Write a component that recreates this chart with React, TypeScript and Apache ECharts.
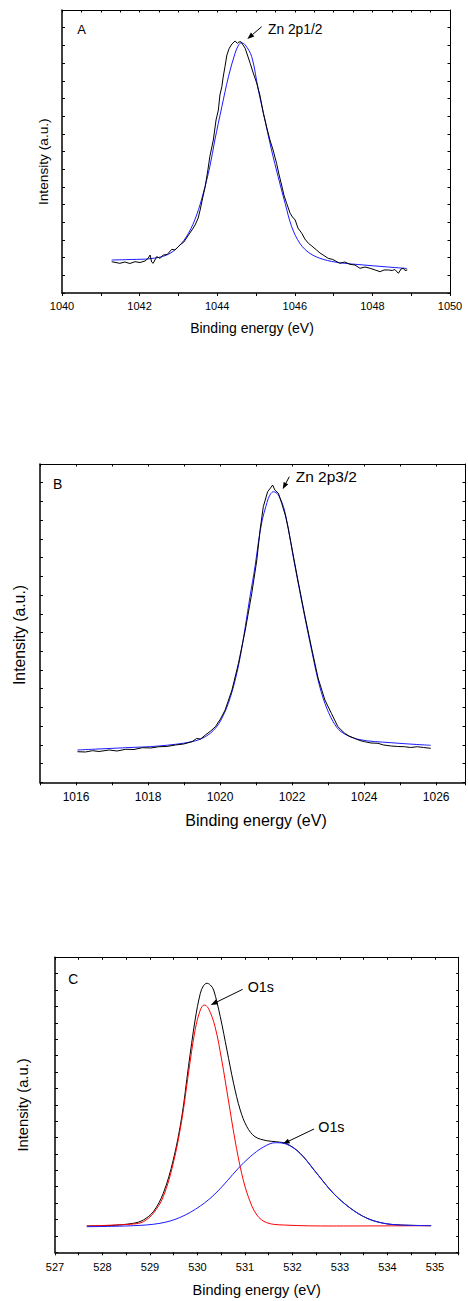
import React, { useEffect, useRef } from "react";
import * as echarts from "echarts";

// ---------- Panel A : Zn 2p1/2 ----------
const aRawEnergy = [1041.28,1041.49,1041.62,1041.75,1041.88,1042.01,1042.14,1042.22,1042.27,1042.31,1042.35,1042.44,1042.53,1042.61,1042.71,1042.83,1042.91,1043.04,1043.14,1043.26,1043.35,1043.43,1043.51,1043.56,1043.63,1043.69,1043.76,1043.81,1043.90,1043.97,1044.03,1044.07,1044.12,1044.15,1044.20,1044.25,1044.31,1044.38,1044.46,1044.52,1044.56,1044.61,1044.65,1044.72,1044.77,1044.85,1044.92,1045.02,1045.10,1045.19,1045.28,1045.36,1045.44,1045.53,1045.59,1045.66,1045.72,1045.79,1045.88,1045.94,1046.01,1046.08,1046.18,1046.26,1046.35,1046.44,1046.56,1046.65,1046.75,1046.86,1046.98,1047.16,1047.29,1047.42,1047.55,1047.68,1047.81,1047.94,1048.07,1048.20,1048.30,1048.41,1048.51,1048.58,1048.67,1048.74,1048.80,1048.84,1048.90];
const aRawIntensity = [11.06,10.49,10.95,10.42,11.06,10.78,11.31,12.26,13.43,10.95,10.49,12.83,12.26,13.43,13.6,15.44,15.19,16.96,18.0,20.49,22.26,24.03,26.5,29.33,33.9,37.56,43.46,48.16,54.06,61.13,64.66,69.96,72.9,75.97,79.96,84.1,86.47,87.99,89.05,88.23,88.7,88.8,87.99,86.47,84.45,81.17,78.1,74.1,69.96,63.5,58.3,54.06,50.53,45.83,42.05,38.16,34.6,31.7,28.16,26.86,25.8,22.97,21.1,19.08,17.56,16.6,15.19,14.13,13.25,12.26,11.84,10.49,10.95,10.14,9.89,8.73,9.19,8.73,8.13,7.53,8.13,8.13,7.95,8.3,6.96,8.48,8.73,7.95,8.13];
const aFitEnergy = [1041.28,1041.8,1042.27,1042.70,1043.00,1043.26,1043.47,1043.64,1043.81,1043.94,1044.12,1044.29,1044.46,1044.55,1044.62,1044.72,1044.89,1045.06,1045.23,1045.40,1045.57,1045.75,1045.92,1046.13,1046.39,1046.73,1047.16,1047.77,1048.3,1048.89];
const aFitIntensity = [11.66,11.85,12.12,13.43,16.36,21.10,27.56,35.23,44.63,54.06,65.83,76.43,84.70,87.6,88.4,87.7,83.5,71.73,61.13,50.53,41.1,31.7,23.43,17.55,14.0,11.9,10.7,9.9,9.3,8.66];

// ---------- Panel B : Zn 2p3/2 ----------
const bRawEnergy = [1016.04,1016.26,1016.46,1016.64,1016.92,1017.14,1017.38,1017.61,1017.84,1018.08,1018.30,1018.52,1018.76,1018.99,1019.22,1019.35,1019.46,1019.59,1019.74,1019.87,1020.01,1020.14,1020.33,1020.51,1020.70,1020.88,1021.02,1021.11,1021.20,1021.32,1021.40,1021.46,1021.52,1021.62,1021.71,1021.81,1021.89,1022.03,1022.17,1022.35,1022.54,1022.72,1022.91,1023.09,1023.27,1023.46,1023.58,1023.73,1023.88,1024.01,1024.19,1024.38,1024.54,1024.75,1024.93,1025.12,1025.29,1025.48,1025.65,1025.85];
const bRawIntensity = [9.61,9.52,9.93,9.68,10.15,9.83,10.37,10.3,10.87,10.78,11.18,11.25,11.72,12.03,12.76,13.76,13.6,14.86,16.12,17.47,19.89,22.71,29.0,37.39,47.85,59.38,69.84,79.26,86.58,91.3,92.46,93.40,91.83,90.8,87.65,83.98,79.9,71.41,62.93,52.56,42.19,32.77,25.86,21.68,17.47,15.39,14.55,13.82,13.13,12.76,12.35,12.25,11.72,11.40,11.25,11.18,10.93,11.18,10.93,10.68];
const bFitEnergy = [1016.04,1017.38,1018.30,1019.22,1019.59,1019.87,1020.05,1020.23,1020.42,1020.56,1020.70,1020.83,1020.97,1021.06,1021.17,1021.27,1021.34,1021.41,1021.48,1021.55,1021.62,1021.76,1021.90,1022.03,1022.17,1022.35,1022.54,1022.72,1022.91,1023.14,1023.36,1023.83,1024.75,1025.85];
const bFitIntensity = [10.15,10.87,11.40,12.76,14.33,16.97,20.11,24.82,32.14,39.46,48.88,58.31,67.74,75.09,82.41,86.59,89.22,90.7,91.3,91.0,90.26,86.59,79.27,70.88,62.52,52.03,41.56,32.14,24.82,19.04,15.90,13.51,12.44,11.62];

// ---------- Panel C : O1s ----------
const cEnvEnergy = [527.67,528.16,528.65,528.86,529.07,529.28,529.49,529.67,529.81,529.95,530.06,530.13,530.20,530.27,530.34,530.48,530.62,530.76,530.90,531.04,531.21,531.46,531.67,531.88,532.16,532.51,532.86,533.22,533.57,533.92,534.27,534.92];
const cEnvIntensity = [8.92,9.08,9.83,10.95,13.76,20.0,31.29,45.97,62.92,78.75,87.80,90.44,91.19,90.61,88.92,79.86,68.58,57.29,48.24,42.58,39.19,37.83,37.45,36.8,33.6,26.8,20.05,14.95,11.55,9.85,9.27,9.04];
const cRedEnergy = [527.67,528.65,528.86,529.07,529.28,529.49,529.67,529.81,529.95,530.06,530.14,530.23,530.37,530.51,530.65,530.79,530.93,531.07,531.25,531.46,531.81,532.86,534.90];
const cRedIntensity = [8.92,9.59,10.37,13.22,18.85,30.17,44.85,60.68,75.36,82.14,83.83,82.71,76.47,65.19,51.63,38.07,26.78,18.85,12.64,10.03,9.25,8.92,9.02];
const cBlueEnergy = [527.67,528.65,529.21,529.63,530.06,530.41,530.86,531.11,531.39,531.64,531.88,532.16,532.51,532.86,533.22,533.57,533.92,534.27,534.92];
const cBlueIntensity = [8.68,9.02,9.83,11.8,15.7,20.44,28.47,32.4,35.7,37.15,36.61,33.56,26.78,20.0,14.92,11.53,9.83,9.25,9.02];

const FONT = "'Liberation Sans', Arial, sans-serif";

const zip = (xs: number[], ys: number[]) => {
  const n = Math.min(xs.length, ys.length);
  const out: number[][] = [];
  for (let i = 0; i < n; i++) out.push([xs[i], ys[i]]);
  return out;
};

function axesFor(
  gi: number,
  xmin: number,
  xmax: number,
  xInt: number,
  topInt: number,
  labelStep: number,
  yN: number,
  tickFont: number,
  labelMargin: number
) {
  const fmt = (v: number) => {
    const r = Math.round(v * 1000) / 1000;
    if (Math.abs(r / labelStep - Math.round(r / labelStep)) < 1e-6 && Math.abs(r - xmax) > 1e-6 || (Math.abs(r - xmax) < 1e-6 && Math.abs(r / labelStep - Math.round(r / labelStep)) < 1e-6)) return String(Math.round(r));
    return "";
  };
  const xs = [
    {
      type: "value",
      gridIndex: gi,
      min: xmin,
      max: xmax,
      interval: xInt,
      position: "bottom",
      axisLine: { show: true, onZero: false, lineStyle: { color: "#000", width: 1.5 } },
      axisTick: { show: true, inside: false, length: 3, lineStyle: { color: "#000", width: 1 } },
      axisLabel: { show: true, formatter: fmt, color: "#000", fontSize: tickFont, fontFamily: FONT, margin: labelMargin },
      splitLine: { show: false },
    },
    {
      type: "value",
      gridIndex: gi,
      min: xmin,
      max: xmax,
      interval: topInt,
      position: "top",
      axisLine: { show: true, onZero: false, lineStyle: { color: "#000", width: 1 } },
      axisTick: { show: true, inside: true, length: 2.5, lineStyle: { color: "#000", width: 1 } },
      axisLabel: { show: false },
      splitLine: { show: false },
    },
  ];
  const ys = [
    {
      type: "value",
      gridIndex: gi,
      min: 0,
      max: 100,
      interval: 100 / yN,
      position: "left",
      axisLine: { show: true, onZero: false, lineStyle: { color: "#000", width: 1.5 } },
      axisTick: { show: true, inside: true, length: 3, lineStyle: { color: "#000", width: 1 } },
      axisLabel: { show: false },
      splitLine: { show: false },
    },
    {
      type: "value",
      gridIndex: gi,
      min: 0,
      max: 100,
      interval: 100 / yN,
      position: "right",
      axisLine: { show: true, onZero: false, lineStyle: { color: "#000", width: 1 } },
      axisTick: { show: true, inside: true, length: 2.5, lineStyle: { color: "#000", width: 1 } },
      axisLabel: { show: false },
      splitLine: { show: false },
    },
  ];
  return { xs, ys };
}

function lineSeries(axisIdx: number, data: number[][], color: string, smooth: number | boolean, z = 2) {
  return {
    type: "line",
    xAxisIndex: axisIdx,
    yAxisIndex: axisIdx,
    data,
    showSymbol: false,
    symbol: "none",
    smooth,
    z,
    lineStyle: { color, width: 1 },
    silent: true,
  };
}

function text(x: number, y: number, s: string, size: number, align = "center", rotation = 0) {
  return {
    type: "text",
    x,
    y,
    rotation,
    style: { text: s, fontSize: size, fontFamily: FONT, fill: "#000", align, verticalAlign: "middle" },
  };
}

function arrow(sx: number, sy: number, ex: number, ey: number) {
  const dx = ex - sx;
  const dy = ey - sy;
  const len = Math.sqrt(dx * dx + dy * dy);
  const ux = dx / len;
  const uy = dy / len;
  const L = 7;
  const W = 2.6;
  const bx = ex - ux * L;
  const by = ey - uy * L;
  const px = -uy;
  const py = ux;
  return [
    { type: "line", shape: { x1: sx, y1: sy, x2: bx, y2: by }, style: { stroke: "#000", lineWidth: 1 } },
    {
      type: "polygon",
      shape: { points: [[ex, ey], [bx + px * W, by + py * W], [bx - px * W, by - py * W]] },
      style: { fill: "#000" },
    },
  ];
}

export default function App() {
  const ref = useRef<HTMLDivElement>(null);
  useEffect(() => {
    if (!ref.current) return;
    const chart = echarts.init(ref.current, undefined, { renderer: "svg" });
    const A = axesFor(0, 1040, 1050, 1, 0.5, 2, 16, 11, 7);
    const B = axesFor(1, 1015, 1026.8, 1, 1, 2, 17, 12, 9);
    const C = axesFor(2, 527, 535.5, 0.5, 0.5, 1, 18, 11, 9);
    const option = {
      animation: false,
      backgroundColor: "#fff",
      grid: [
        { left: 62, top: 10, width: 388, height: 283 },
        { left: 40, top: 464, width: 427.2, height: 318.3 },
        { left: 55, top: 957.3, width: 403.7, height: 295 },
      ],
      xAxis: [...A.xs, ...B.xs, ...C.xs],
      yAxis: [...A.ys, ...B.ys, ...C.ys],
      series: [
        lineSeries(0, zip(aFitEnergy, aFitIntensity), "#1a1aff", 0.35, 2),
        lineSeries(0, zip(aRawEnergy, aRawIntensity), "#000", false, 3),
        lineSeries(2, zip(bFitEnergy, bFitIntensity), "#1a1aff", 0.35, 2),
        lineSeries(2, zip(bRawEnergy, bRawIntensity), "#000", false, 3),
        lineSeries(4, zip(cEnvEnergy, cEnvIntensity), "#000", 0.35, 2),
        lineSeries(4, zip(cRedEnergy, cRedIntensity), "#ff0000", 0.35, 3),
        lineSeries(4, zip(cBlueEnergy, cBlueIntensity), "#1a1aff", 0.35, 4),
      ],
      graphic: [
        text(81.7, 29, "A", 13),
        text(268, 29.3, "Zn 2p1/2", 13.8, "left"),
        ...arrow(261.7, 26.7, 247.3, 39),
        text(252, 328, "Binding energy (eV)", 14),
        text(43.3, 161.7, "Intensity (a.u.)", 13.7, "center", Math.PI / 2),

        text(57.7, 484.3, "B", 14),
        text(295.7, 476, "Zn 2p3/2", 15.5, "left"),
        ...arrow(289.3, 476.7, 282.7, 489.3),
        text(256, 820, "Binding energy (eV)", 16),
        text(19, 635, "Intensity (a.u.)", 15.8, "center", Math.PI / 2),

        text(73.3, 979, "C", 13.8),
        text(247.7, 986.7, "O1s", 14.3, "left"),
        ...arrow(242.7, 989.3, 210.7, 1005),
        text(318.3, 1126.7, "O1s", 14.3, "left"),
        ...arrow(314, 1129, 282.7, 1144),
        text(256.7, 1290, "Binding energy (eV)", 14.5),
        text(23.3, 1105, "Intensity (a.u.)", 14.7, "center", Math.PI / 2),
      ],
    };
    chart.setOption(option as any);
    return () => chart.dispose();
  }, []);
  return (
    <div
      ref={ref}
      style={{ position: "absolute", left: 0, top: 0, width: 468, height: 1301, overflow: "hidden" }}
    />
  );
}
